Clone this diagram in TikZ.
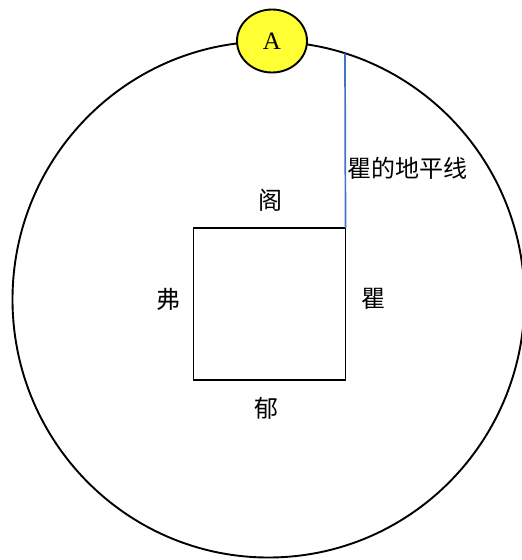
\documentclass[tikz,border=0pt]{standalone}
\usepackage{fontspec}
\setmainfont{Liberation Serif}
\newfontfamily\cjk{Noto Sans CJK SC}
\usetikzlibrary{shapes.geometric}
\definecolor{sunyellow}{RGB}{255,255,51}
\definecolor{horizonblue}{RGB}{68,114,196}
\tikzset{%
  inner sep=0pt,%
  outer sep=0pt,%
  side label/.style={font=\cjk\fontsize{24}{26}\selectfont},%
  box/.style={draw,line width=1.9pt,minimum width=152pt,minimum height=152pt}%
}
\begin{document}
\begin{tikzpicture}[x=1pt,y=-1pt]

%% some definitions

\def\Cx{268.5} % centre of the big circle
\def\Cy{299.5}
\def\Rx{256} % radii of the big circle
\def\Ry{258}
\def\Lx{345} % x of the horizon line

\useasboundingbox (0,0) rectangle (522,560);

%% big circle and point A

\draw[line width=1.9pt] (\Cx,\Cy) ellipse [x radius=\Rx, y radius=\Ry];
\node[ellipse,draw,line width=1.9pt,fill=sunyellow,minimum width=70pt,
  minimum height=63pt,font=\fontsize{25}{27}\selectfont] (A) at (272,41) {A};

%% square and its sides

\node[box] (sq) at (269.5,304) {};
\node[side label] (ge) at (270,200) {阁};
\node[side label] (fu) at (168,299) {弗};
\node[side label] (qu) at (373,299) {瞿};
\node[side label] (yu) at (266,408) {郁};

%% horizon line

\pgfmathsetmacro\Hy{\Cy-\Ry*sqrt(1-((\Lx-\Cx)/\Rx)^2)} % meets the circle
\coordinate (H) at (\Lx,\Hy);
\draw[horizonblue,line width=1.7pt] (sq.north east) -- (H);
\node[side label,anchor=west] (horizon) at (347,168) {瞿的地平线};

\end{tikzpicture}
\end{document}
